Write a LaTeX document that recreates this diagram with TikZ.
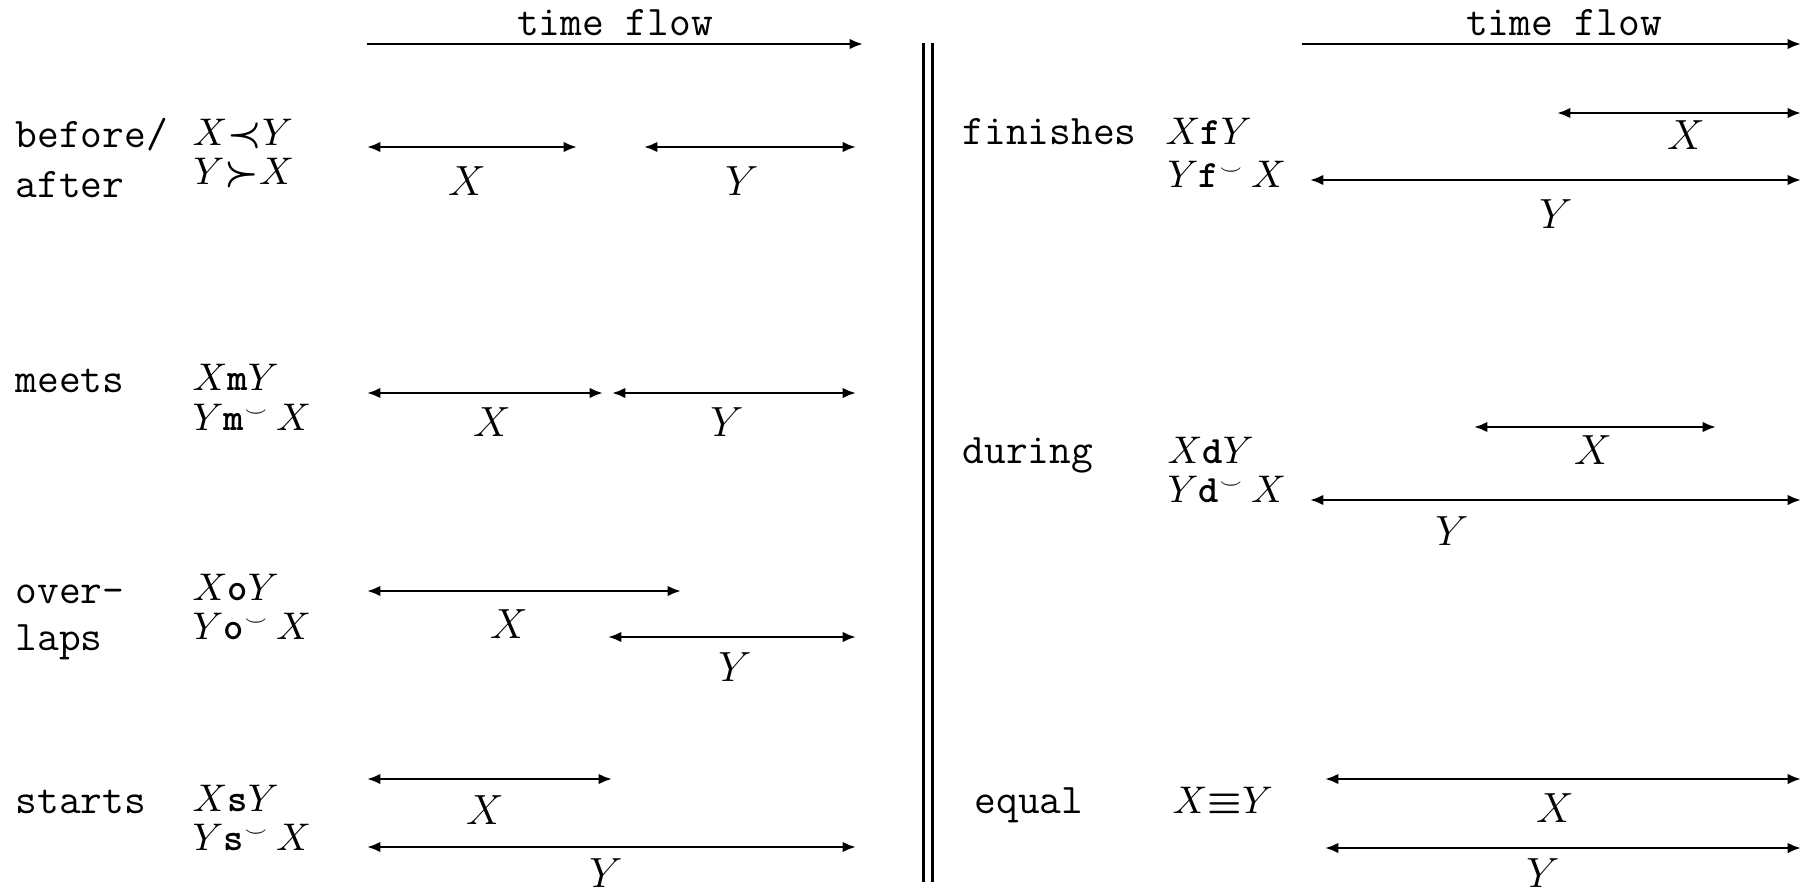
\documentclass[tikz,border=0pt]{standalone}
\usepackage{amsmath}
\usetikzlibrary{arrows.meta}
\newcommand{\trel}[1]{\mbox{\ttfamily\bfseries #1}}
\newcommand{\tconv}[1]{\trel{#1}^{\scriptscriptstyle\smile}}
\tikzset{
  tip/.tip={Latex[length=3.8pt,width=3pt]},
  ivl/.style={line width=0.7pt, tip-tip},
  flow/.style={line width=0.7pt, -tip},
  word/.style={anchor=base west, font=\fontsize{12}{14}\ttfamily, inner sep=0pt},
  rel/.style={anchor=base west, font=\fontsize{11}{13}\selectfont, inner sep=0pt},
  lbl/.style={font=\fontsize{11.5}{14}\selectfont, inner sep=0pt}
}

\begin{document}
\begin{tikzpicture}[x=0.01cm, y=-0.01cm]
            \useasboundingbox (0,0) rectangle (1810,891);

            % Time axes
            \coordinate (tla) at (367,44);
            \coordinate (tlb) at (863,44);
            \draw[flow] (tla) -- (tlb);
            \node[word, anchor=base] (tlt) at (615,36) {time flow};
            \coordinate (tra) at (1302,44);
            \coordinate (trb) at (1801,44);
            \draw[flow] (tra) -- (trb);
            \node[word, anchor=base] (trt) at (1564,36) {time flow};

            % Separator
            \coordinate (sepa) at (928,43);
            \coordinate (sepb) at (928,882);
            \draw[line width=0.8pt, double distance=1.6pt] (sepa) -- (sepb);

            % Before / after
            \node[word] (bfw) at (15,148) {before/};
            \node[word] (afw) at (15,197) {after};
            \node[rel] (bfr) at (192,146) {$X{\boldsymbol{\prec}}Y$};
            \node[rel] (afr) at (193,184) {$Y{\boldsymbol{\succ}}X$};
            \coordinate (bxa) at (367,147);
            \coordinate (bxb) at (577,147);
            \coordinate (bya) at (644,147);
            \coordinate (byb) at (856,147);
            \draw[ivl] (bxa) -- (bxb);
            \draw[ivl] (bya) -- (byb);
            \node[lbl] (bxl) at (467,181) {$X$};
            \node[lbl] (byl) at (742,181) {$Y$};

            % Meets
            \node[word] (mw) at (15,392) {meets};
            \node[rel] (mr) at (192,390) {$X\trel{m}Y$};
            \node[rel] (mrc) at (192,430) {$Y\tconv{m}\,X$};
            \coordinate (mxa) at (367,393);
            \coordinate (mxb) at (603,393);
            \coordinate (mya) at (612,393);
            \coordinate (myb) at (856,393);
            \draw[ivl] (mxa) -- (mxb);
            \draw[ivl] (mya) -- (myb);
            \node[lbl] (mxl) at (492,422) {$X$};
            \node[lbl] (myl) at (727,422) {$Y$};

            % Overlaps
            \node[word] (ow) at (15,603) {over-};
            \node[word] (ow2) at (15,650) {laps};
            \node[rel] (or) at (192,600) {$X\trel{o}Y$};
            \node[rel] (orc) at (192,639) {$Y\tconv{o}\,X$};
            \coordinate (oxa) at (367,591);
            \coordinate (oxb) at (681,591);
            \coordinate (oya) at (608,637);
            \coordinate (oyb) at (856,637);
            \draw[ivl] (oxa) -- (oxb);
            \draw[ivl] (oya) -- (oyb);
            \node[lbl] (oxl) at (509,624) {$X$};
            \node[lbl] (oyl) at (735,667) {$Y$};

            % Starts
            \node[word] (sw) at (15,813) {starts};
            \node[rel] (sr) at (192,811) {$X\trel{s}Y$};
            \node[rel] (src) at (192,850) {$Y\tconv{s}\,X$};
            \coordinate (sxa) at (367,779);
            \coordinate (sxb) at (612,779);
            \coordinate (sya) at (367,847);
            \coordinate (syb) at (856,847);
            \draw[ivl] (sxa) -- (sxb);
            \draw[ivl] (sya) -- (syb);
            \node[lbl] (sxl) at (485,810) {$X$};
            \node[lbl] (syl) at (606,873) {$Y$};

            % Finishes
            \node[word] (fw) at (962,145) {finishes};
            \node[rel] (fr) at (1165,145) {$X\trel{f}Y$};
            \node[rel] (frc) at (1167,188) {$Y\tconv{f}\,X$};
            \coordinate (fxa) at (1557,113);
            \coordinate (fxb) at (1801,113);
            \coordinate (fya) at (1310,180);
            \coordinate (fyb) at (1801,180);
            \draw[ivl] (fxa) -- (fxb);
            \draw[ivl] (fya) -- (fyb);
            \node[lbl] (fxl) at (1686,135) {$X$};
            \node[lbl] (fyl) at (1556,214) {$Y$};

            % During
            \node[word] (dw) at (962,463) {during};
            \node[rel] (dr) at (1167,463) {$X\trel{d}Y$};
            \node[rel] (drc) at (1167,502) {$Y\tconv{d}\,X$};
            \coordinate (dxa) at (1474,427);
            \coordinate (dxb) at (1716,427);
            \coordinate (dya) at (1310,500);
            \coordinate (dyb) at (1801,500);
            \draw[ivl] (dxa) -- (dxb);
            \draw[ivl] (dya) -- (dyb);
            \node[lbl] (dxl) at (1593,450) {$X$};
            \node[lbl] (dyl) at (1452,531) {$Y$};

            % Equal
            \node[word] (ew) at (974,813) {equal};
            \node[rel] (er) at (1172,813) {$X{\boldsymbol{\equiv}}Y$};
            \coordinate (exa) at (1325,779);
            \coordinate (exb) at (1801,779);
            \coordinate (eya) at (1325,848);
            \coordinate (eyb) at (1801,848);
            \draw[ivl] (exa) -- (exb);
            \draw[ivl] (eya) -- (eyb);
            \node[lbl] (exl) at (1555,808) {$X$};
            \node[lbl] (eyl) at (1543,873) {$Y$};
        \end{tikzpicture}
\end{document}
